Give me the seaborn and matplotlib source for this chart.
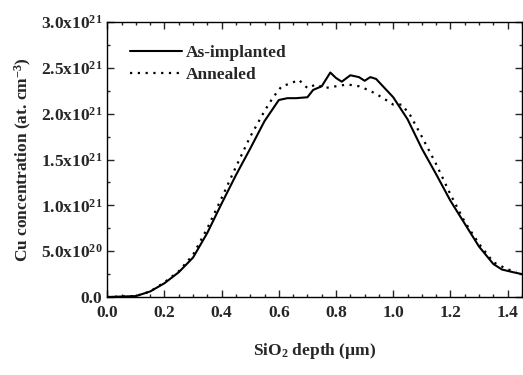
import numpy as np
import pandas as pd
import seaborn as sns
import matplotlib.pyplot as plt
from matplotlib.ticker import MultipleLocator, FixedLocator, FixedFormatter

# depth (um) and Cu concentration (units of 1e21 at/cm3)
depth_impl = [0.00, 0.05, 0.10, 0.15, 0.20, 0.25, 0.30, 0.35, 0.40, 0.45,
              0.50, 0.55, 0.60, 0.63, 0.66, 0.70, 0.72, 0.75, 0.78, 0.80,
              0.82, 0.85, 0.88, 0.90, 0.92, 0.94, 0.97, 1.00, 1.05, 1.10,
              1.15, 1.20, 1.25, 1.30, 1.35, 1.38, 1.42, 1.45]
conc_impl = [0.00, 0.005, 0.01, 0.06, 0.15, 0.27, 0.43, 0.70, 1.02, 1.33,
             1.62, 1.92, 2.15, 2.17, 2.17, 2.18, 2.26, 2.30, 2.45, 2.39,
             2.35, 2.42, 2.40, 2.36, 2.40, 2.38, 2.28, 2.18, 1.94, 1.62,
             1.34, 1.05, 0.80, 0.55, 0.36, 0.30, 0.27, 0.25]

depth_ann = [0.00, 0.05, 0.10, 0.15, 0.20, 0.25, 0.30, 0.35, 0.40, 0.45,
             0.50, 0.55, 0.58, 0.61, 0.64, 0.67, 0.70, 0.73, 0.76, 0.80,
             0.84, 0.88, 0.92, 0.96, 1.00, 1.03, 1.06, 1.10, 1.15, 1.20,
             1.25, 1.30, 1.35, 1.40, 1.43]
conc_ann = [0.00, 0.005, 0.01, 0.06, 0.16, 0.28, 0.46, 0.75, 1.08, 1.42,
            1.75, 2.03, 2.18, 2.30, 2.33, 2.37, 2.28, 2.32, 2.28, 2.30,
            2.32, 2.30, 2.25, 2.18, 2.10, 2.10, 1.98, 1.75, 1.45, 1.12,
            0.82, 0.58, 0.38, 0.30, 0.28]

ytick_vals = [0.0, 0.5, 1.0, 1.5, 2.0, 2.5, 3.0]
ytick_text = ["0.0", "5.0x10$^{20}$", "1.0x10$^{21}$", "1.5x10$^{21}$",
              "2.0x10$^{21}$", "2.5x10$^{21}$", "3.0x10$^{21}$"]

sns.set_style("ticks")
plt.rcParams["font.family"] = ["Liberation Serif", "DejaVu Serif"]
plt.rcParams["font.weight"] = "bold"
plt.rcParams["mathtext.fontset"] = "custom"
plt.rcParams["mathtext.rm"] = "Liberation Serif"
plt.rcParams["mathtext.bf"] = "Liberation Serif:bold"
plt.rcParams["mathtext.default"] = "bf"

impl = pd.DataFrame({"depth": depth_impl, "conc": conc_impl})
ann = pd.DataFrame({"depth": depth_ann, "conc": conc_ann})

fig = plt.figure(figsize=(5.23, 3.75), dpi=100)
ax = fig.add_axes([0.205, 0.208, 0.793, 0.733])

sns.lineplot(data=impl, x="depth", y="conc", color="black", linewidth=1.5,
             label="As-implanted", ax=ax)
sns.lineplot(data=ann, x="depth", y="conc", color="black", linewidth=1.6,
             linestyle=(0, (1, 2.5)), label="Annealed", ax=ax)

ax.set_xlim(0, 1.45)
ax.set_ylim(0, 3.0)
ax.xaxis.set_major_locator(MultipleLocator(0.2))
ax.xaxis.set_minor_locator(MultipleLocator(0.05))
ax.yaxis.set_major_locator(FixedLocator(ytick_vals))
ax.yaxis.set_major_formatter(FixedFormatter(ytick_text))
ax.yaxis.set_minor_locator(MultipleLocator(0.25))
ax.tick_params(which="both", direction="in", top=True, right=True,
               labelsize=12.5, width=1.0)
ax.tick_params(which="major", length=5)
ax.tick_params(which="minor", length=2.5)
ax.tick_params(axis="x", which="major", pad=6)
for lab in ax.get_xticklabels() + ax.get_yticklabels():
    lab.set_fontweight("bold")
for sp in ax.spines.values():
    sp.set_linewidth(1.0)
    sp.set_color("black")

ax.set_xlabel("SiO$_2$ depth (\u00b5m)", fontsize=12.5, fontweight="bold",
              labelpad=14)
ax.set_ylabel("Cu concentration (at. cm$^{-3}$)", fontsize=12.5,
              fontweight="bold", labelpad=5)

leg = ax.legend(loc="upper left", frameon=False, fontsize=12.5,
                handlelength=3.0, handletextpad=0.2, borderaxespad=0.9,
                labelspacing=0.35)
for t in leg.get_texts():
    t.set_fontweight("bold")

fig.savefig("out.png", dpi=100)
